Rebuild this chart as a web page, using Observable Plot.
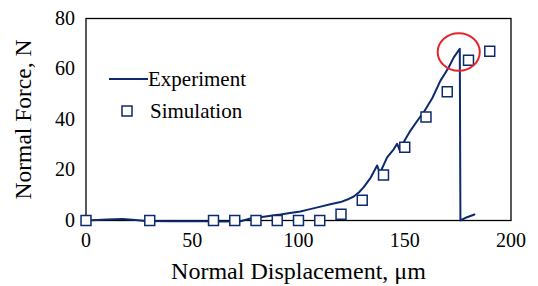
<!DOCTYPE html>
<html><head><meta charset="utf-8">
<script src="https://cdn.jsdelivr.net/npm/d3@7"></script>
<script src="https://cdn.jsdelivr.net/npm/@observablehq/plot@0.6"></script>
<style>
body{margin:0;background:#fff;}
#wrap{position:relative;width:538px;height:286px;}
#legend{position:absolute;left:109px;top:63px;font-family:"Liberation Serif",serif;font-size:21px;color:#000;}
#legend div{display:flex;align-items:center;height:32px;}
</style>
</head><body>
<div id="wrap"><div id="legend"></div></div>
<script>
// Experiment (continuous line)
const expX = [0,5,10,17,22,28,40,55,65,72.7,77,82,87,91.5,96,100.9,105,110.4,115,119.8,123,126,128.5,130.7,134,137,138.3,141.7,144.8,146.4,147.7,150,152.7,156,159,163,166.8,168.8,170.7,173,175.9,176.2,179,182.8];
const expY = [0,0.2,0.4,0.6,0.3,-0.2,-0.3,-0.3,-0.4,-0.3,0.7,1.3,1.9,2.4,3,3.6,4.4,5.5,6.4,7.3,8.3,9.5,11.2,13.2,17,21.8,18.7,25,28.2,30.4,27.7,31.8,35.6,39.6,43,48.5,55.4,58,60.7,64.5,68,0,1.2,2.4];
// Simulation (square markers)
const simX = [0,30,60,70,80,90,100,110,120,130,140,150,160,170,180,190];
const simY = [0,0,0,0,0,0,0,0,2.5,8,18,29,41,51,63.5,67];
const xTicks = [0,50,100,150,200];
const yTicks = [0,20,40,60,80];

const navy = "#0d2a6e";
const expData = expX.map((x,i)=>({x, y: expY[i]}));
const simData = simX.map((x,i)=>({x, y: simY[i]}));
const peak = [expData.reduce((a,b)=> b.y > a.y ? b : a)];

const ellipse = {
  draw(ctx, size){
    const r = Math.sqrt(size/Math.PI);
    const rx = r*1.08, ry = r*0.96, k = 0.5523;
    ctx.moveTo(rx,0);
    ctx.bezierCurveTo(rx, ry*k, rx*k, ry, 0, ry);
    ctx.bezierCurveTo(-rx*k, ry, -rx, ry*k, -rx, 0);
    ctx.bezierCurveTo(-rx, -ry*k, -rx*k, -ry, 0, -ry);
    ctx.bezierCurveTo(rx*k, -ry, rx, -ry*k, rx, 0);
    ctx.closePath();
  }
};

const chart = Plot.plot({
  width: 538, height: 286,
  marginLeft: 85.5, marginRight: 27.5, marginTop: 18, marginBottom: 66,
  style: {fontFamily: '"Liberation Serif", serif', fontSize: "20px", color: "#000", background: "#fff"},
  x: {domain: [0,200], ticks: xTicks, tickSize: 0, tickPadding: 12, label: null},
  y: {domain: [0,80], ticks: yTicks, tickSize: 0, tickPadding: 11, label: null},
  marks: [
    Plot.frame({stroke: "#000", strokeWidth: 1.3}),
    Plot.line(expData, {x: "x", y: "y", stroke: navy, strokeWidth: 2}),
    Plot.dot(simData, {x: "x", y: "y", symbol: "square", r: 5.6, stroke: navy, fill: "#fff", strokeWidth: 1.5}),
    Plot.dot(peak, {x: d => d.x - 0.5, y: d => d.y - 1.3, symbol: ellipse, r: 19.5, stroke: "#e3262b", strokeWidth: 2, fill: "none"}),
    Plot.axisX({ticks: xTicks, tickSize: 0, tickPadding: 12, fontSize: 20, label: "Normal Displacement, μm", labelAnchor: "center", labelArrow: "none", labelOffset: 58}),
    Plot.axisY({ticks: yTicks, tickSize: 0, tickPadding: 11, fontSize: 20, label: "Normal Force, N", labelAnchor: "center", labelArrow: "none", labelOffset: 72})
  ]
});
chart.querySelectorAll('[aria-label="x-axis label"] text').forEach(t=>t.setAttribute("font-size","24px"));
chart.querySelectorAll('[aria-label="y-axis label"] text').forEach(t=>t.setAttribute("font-size","23.5px"));
document.getElementById("wrap").prepend(chart);

const legend = document.getElementById("legend");
legend.innerHTML = `
<div><svg width="39" height="20"><line x1="0" x2="39" y1="10" y2="10" stroke="${navy}" stroke-width="2"/></svg><span>Experiment</span></div>
<div><svg width="41" height="20"><rect x="13" y="5" width="10" height="10" fill="#fff" stroke="${navy}" stroke-width="1.5"/></svg><span>Simulation</span></div>`;
</script>
</body></html>
